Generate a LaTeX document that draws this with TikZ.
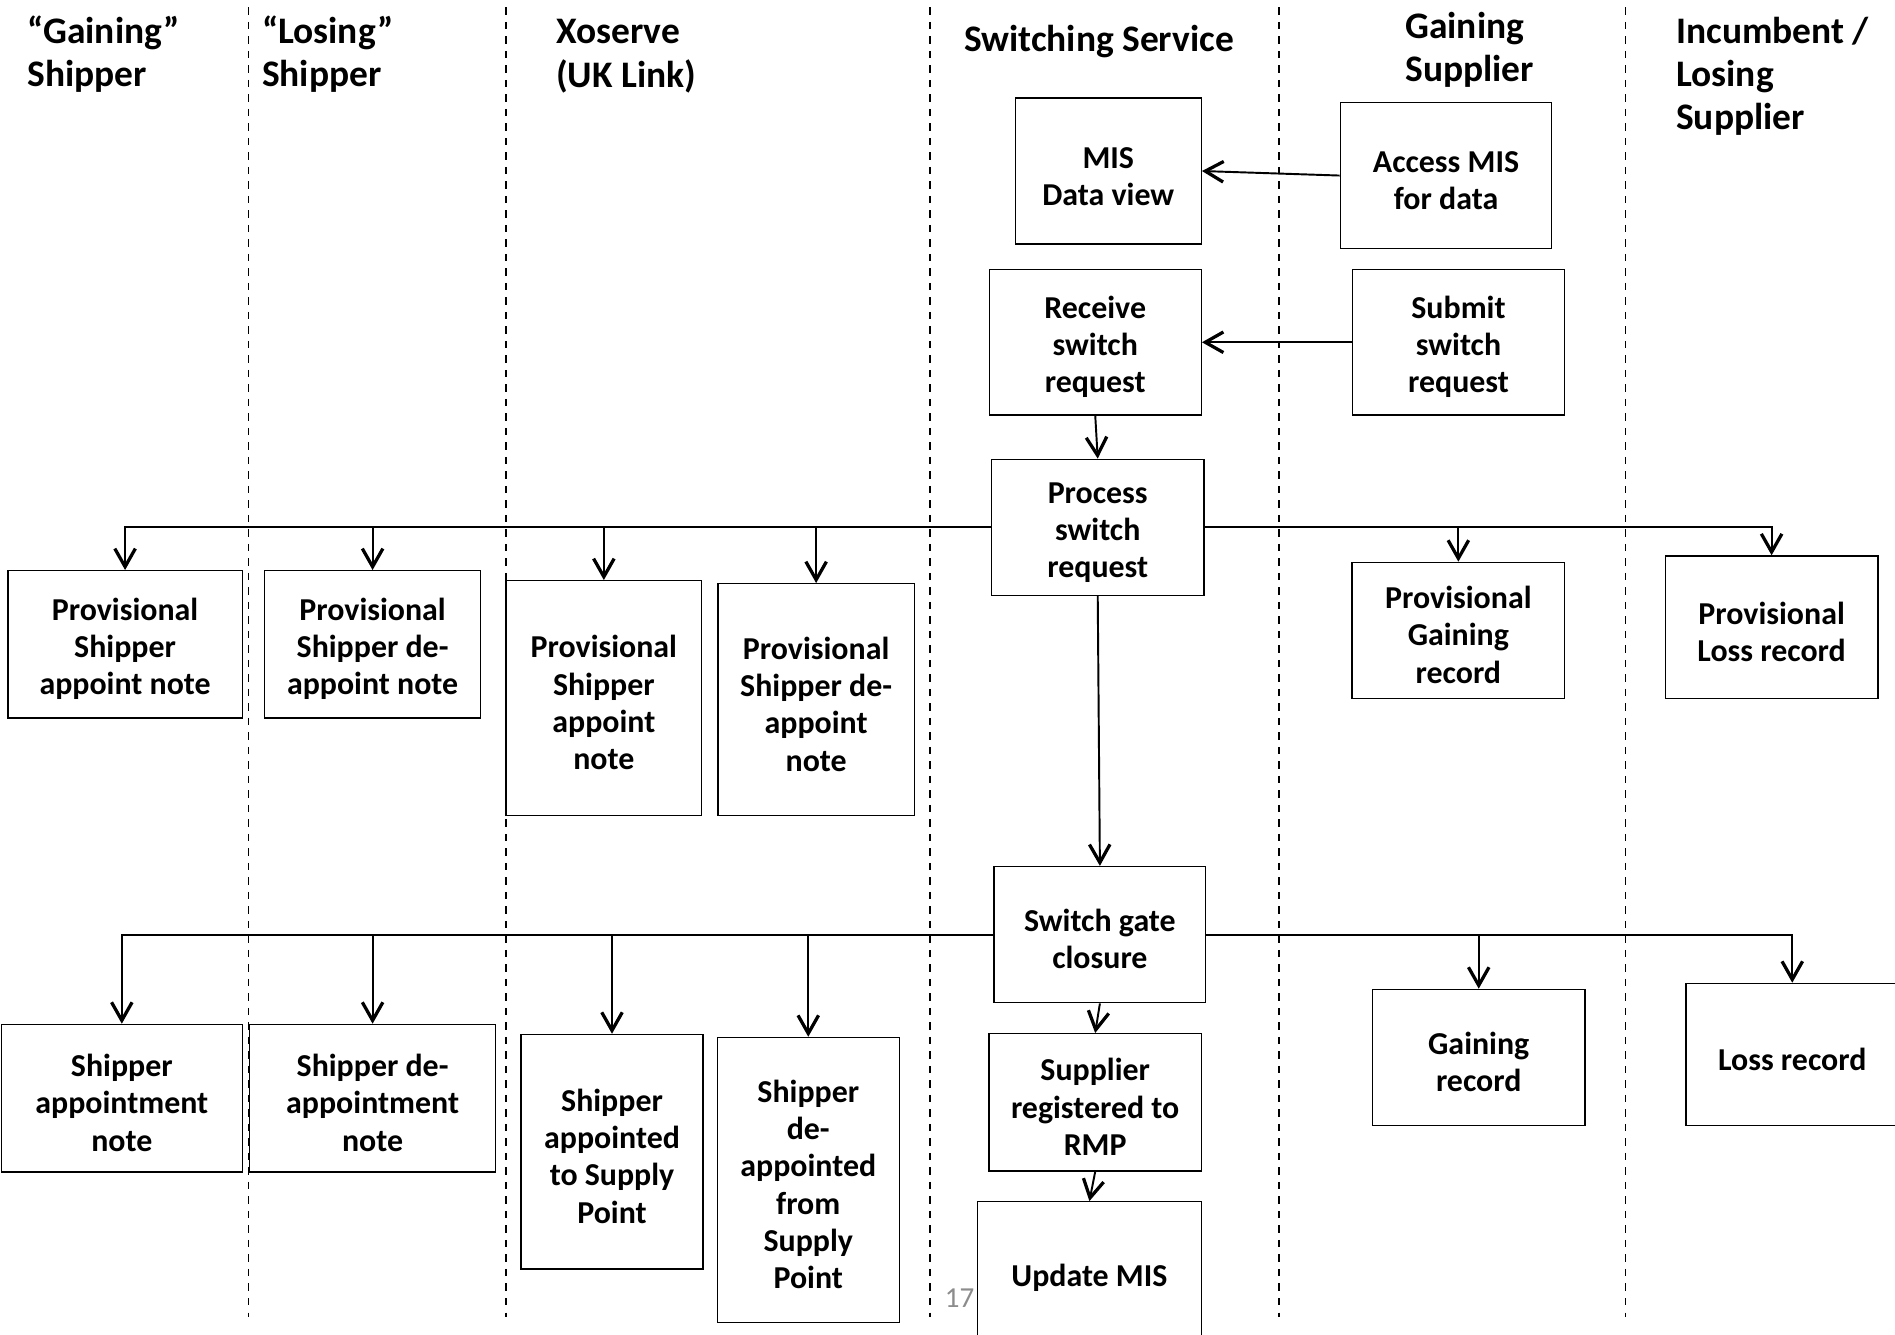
\documentclass[tikz,border=0pt]{standalone}
\usepackage{fontspec}
\setmainfont{Carlito}
\usetikzlibrary{arrows.meta}
\newcommand\boxfont{\fontsize{26.4}{30.8}\selectfont\bfseries}
\newcommand\headfont{\fontsize{31}{35.8}\selectfont\bfseries}
% taller first line, so the box text sits a little below the box centre
\newcommand\tp{\rule{0pt}{26pt}}
\tikzset{
  box/.style={draw, line width=1.1pt, align=center, inner sep=0pt, font=\boxfont},
  lane/.style={line width=1.3pt, dash pattern=on 6pt off 6pt},
  flow/.style={line width=1.6pt, -{Straight Barb[length=15pt,width=17pt,line width=2.7pt]}},
  head/.style={font=\headfont, align=left, anchor=north west, inner sep=0pt},
}
\begin{document}
\begin{tikzpicture}[x=1pt, y=-1pt]
\fill[white] (0,0) rectangle (1568,1104);
\useasboundingbox (0,0) rectangle (1568,1104);
\clip (0,0) rectangle (1568,1104);

% swim-lane separators
\foreach \lx in {205.6, 418.7, 769.6, 1058.3, 1345}
  \draw[lane] (\lx,6) -- (\lx,1090);

% lane headings
\node[head] (hgs) at (22.6,12.5) {“Gaining”\\Shipper};
\node[head] (hls) at (216.6,12.5) {“Losing”\\Shipper};
\node[head] (hxo) at (460,16) {Xoserve\\(UK Link)};
\node[head] (hss) at (797.5,21) {Switching Service};
\node[head] (hgsu) at (1162.6,10) {Gaining\\Supplier};
\node[head] (hinc) at (1386.8,14) {Incumbent /\\Losing\\Supplier};

% switching service and gaining supplier steps
\node[box, minimum width=154pt, minimum height=121pt] (mis) at (917,141.5) {\tp MIS\\Data view};
\node[box, minimum width=175pt, minimum height=120.5pt] (access) at (1196.5,145.25) {\tp Access MIS\\for data};
\node[box, minimum width=175.5pt, minimum height=120.4pt] (receive) at (906.25,283.2) {\tp Receive\\switch\\request};
\node[box, minimum width=175.6pt, minimum height=120.4pt] (submit) at (1206.8,283.2) {\tp Submit\\switch\\request};
\node[box, minimum width=175.8pt, minimum height=112.6pt] (process) at (908.3,436.3) {\tp Process\\switch\\request};

% provisional notes and records
\node[box, minimum width=194pt, minimum height=121.8pt] (pgs) at (103.5,533.1) {\tp Provisional\\Shipper\\appoint note};
\node[box, minimum width=178.6pt, minimum height=121.8pt] (pls) at (308.3,533.1) {\tp Provisional\\Shipper de-\\appoint note};
\node[box, minimum width=161.9pt, minimum height=194.2pt] (pxa) at (499.65,577.6) {\tp Provisional\\Shipper\\appoint\\note};
\node[box, minimum width=162.6pt, minimum height=191.7pt] (pxd) at (675.3,578.85) {\tp Provisional\\Shipper de-\\appoint\\note};
\node[box, minimum width=175.8pt, minimum height=112.6pt] (pgain) at (1206.7,521.6) {\tp Provisional\\Gaining\\record};
\node[box, minimum width=175.8pt, minimum height=118pt] (ploss) at (1465.9,519) {\tp Provisional\\Loss record};

% gate closure and final records
\node[box, minimum width=175.2pt, minimum height=112.7pt] (gate) at (910.1,773.35) {\tp Switch gate\\closure};
\node[box, minimum width=199.6pt, minimum height=122.2pt] (sga) at (100.8,908.7) {\tp Shipper\\appointment\\note};
\node[box, minimum width=203.4pt, minimum height=122.2pt] (sld) at (308.3,908.7) {\tp Shipper de-\\appointment\\note};
\node[box, minimum width=150.4pt, minimum height=194.1pt] (sxa) at (506.4,952.95) {\tp Shipper\\appointed\\to Supply\\Point};
\node[box, minimum width=150.4pt, minimum height=235.6pt] (sxd) at (668.8,976.2) {\tp Shipper\\de-\\appointed\\from\\Supply\\Point};
\node[box, minimum width=175.6pt, minimum height=113.7pt] (reg) at (906.2,912.15) {\tp Supplier\\registered to\\RMP};
\node[box, minimum width=185.2pt, minimum height=117.6pt] (upd) at (901.4,1053.2) {\tp Update MIS};
\node[box, minimum width=175.7pt, minimum height=112.9pt] (gain) at (1223.55,875.05) {\tp Gaining\\record};
\node[box, minimum width=176pt, minimum height=117.8pt] (loss) at (1483,872.6) {\tp Loss record};

% page number
\node[font=\fontsize{24}{28}\selectfont, text=black!45, inner sep=0pt] (pgno) at (794,1074) {17};

% connectors
\draw[flow] (access.west) -- (mis.east);
\draw[flow] (submit.west) -- (receive.east);
\draw[flow] (receive.south) -- (process.north);
\foreach \t in {pgs, pls, pxa, pxd}
  \draw[flow] (process.west) -| (\t.north);
\foreach \t in {pgain, ploss}
  \draw[flow] (process.east) -| (\t.north);
\draw[flow] (process.south) -- (gate.north);
\foreach \t in {sga, sld, sxa, sxd}
  \draw[flow] (gate.west) -| (\t.north);
\foreach \t in {gain, loss}
  \draw[flow] (gate.east) -| (\t.north);
\draw[flow] (gate.south) -- (reg.north);
\draw[flow] (reg.south) -- (upd.north);
\end{tikzpicture}
\end{document}
